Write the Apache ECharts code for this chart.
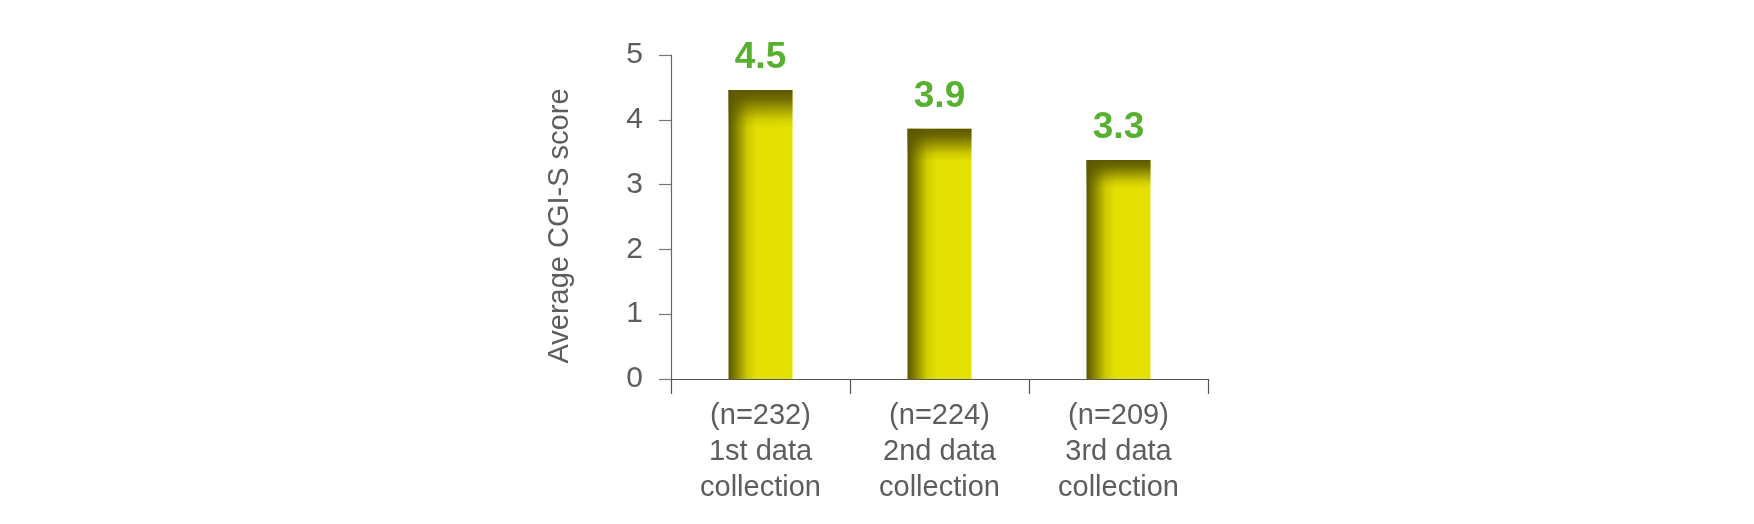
<!DOCTYPE html>
<html>
<head>
<meta charset="utf-8">
<script src="https://cdn.jsdelivr.net/npm/echarts@6/dist/echarts.min.js"></script>
<style>
html,body{margin:0;padding:0;background:#fff;}
#chart{width:1754px;height:524px;}
</style>
</head>
<body>
<div id="chart"></div>
<script>
var categories = ['(n=232)\n1st data\ncollection', '(n=224)\n2nd data\ncollection', '(n=209)\n3rd data\ncollection'];
var scores = [4.46, 3.86, 3.38];
var scoreLabels = ['4.5', '3.9', '3.3'];
var yTicks = [0, 1, 2, 3, 4, 5];
var yAxisName = 'Average CGI-S score';

var FONT = '"Liberation Sans", Arial, Helvetica, sans-serif';
var TEXT = '#5c5d5f';

var chart = echarts.init(document.getElementById('chart'), null, {renderer: 'canvas'});
chart.setOption({
  animation: false,
  backgroundColor: '#ffffff',
  grid: {left: 671, right: 546, top: 55, bottom: 145, containLabel: false},
  xAxis: {
    type: 'category',
    data: categories,
    axisLine: {show: true, lineStyle: {color: '#555', width: 1.2}},
    axisTick: {show: true, length: 15, alignWithLabel: false, lineStyle: {color: '#555', width: 1.2}},
    axisLabel: {color: TEXT, fontFamily: FONT, fontSize: 29, lineHeight: 36, margin: 19, interval: 0}
  },
  yAxis: {
    type: 'value',
    min: yTicks[0],
    max: yTicks[yTicks.length - 1],
    interval: 1,
    name: yAxisName,
    nameLocation: 'middle',
    nameRotate: 90,
    nameGap: 97,
    nameTextStyle: {color: TEXT, fontFamily: FONT, fontSize: 29, padding: [0, 18, 0, 0]},
    axisLine: {show: true, lineStyle: {color: '#666', width: 1.2}},
    axisTick: {show: true, length: 12, inside: false, lineStyle: {color: '#777', width: 1.2}},
    splitLine: {show: false},
    axisLabel: {color: TEXT, fontFamily: FONT, fontSize: 30, margin: 28}
  },
  series: [
    {
      type: 'bar',
      data: scores,
      barWidth: 64,
      itemStyle: {
        color: new echarts.graphic.LinearGradient(0, 0, 1, 0, [
          {offset: 0, color: '#5a5700'},
          {offset: 0.12, color: '#878400'},
          {offset: 0.3, color: '#cfcb00'},
          {offset: 0.45, color: '#e3df00'},
          {offset: 1, color: '#e4e000'}
        ])
      },
      z: 2
    },
    {
      type: 'bar',
      data: scores,
      barWidth: 64,
      barGap: '-100%',
      itemStyle: {
        color: new echarts.graphic.LinearGradient(0, 0, 0, 1, [
          {offset: 0, color: 'rgba(92,88,0,1)'},
          {offset: 0.03, color: 'rgba(92,88,0,0.85)'},
          {offset: 0.07, color: 'rgba(92,88,0,0.45)'},
          {offset: 0.1, color: 'rgba(92,88,0,0.15)'},
          {offset: 0.13, color: 'rgba(92,88,0,0)'},
          {offset: 1, color: 'rgba(92,88,0,0)'}
        ])
      },
      label: {
        show: true,
        position: 'top',
        distance: 14,
        color: '#58b031',
        fontFamily: FONT,
        fontWeight: 'bold',
        fontSize: 37,
        formatter: function (p) { return scoreLabels[p.dataIndex]; }
      },
      z: 3
    }
  ]
});
</script>
</body>
</html>
